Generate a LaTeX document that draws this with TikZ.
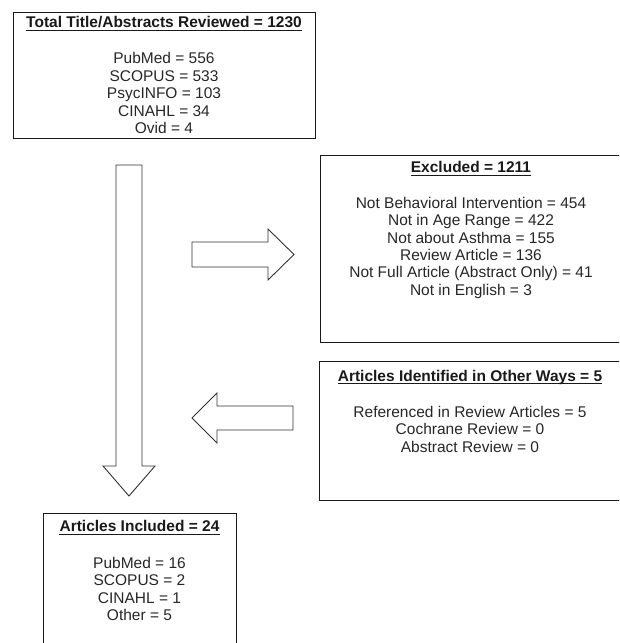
\documentclass[tikz,border=0pt]{standalone}
\usepackage{fontspec}
\setmainfont{Liberation Sans}
\begin{document}
\begin{tikzpicture}[x=1pt,y=-1pt,
  box/.style={draw=black!90, line width=1.1pt, inner sep=0pt, anchor=north west},
  ttl/.style={font=\bfseries\fontsize{15.5}{17.5}\selectfont, inner sep=0pt, anchor=base, text=black!90},
  itm/.style={font=\fontsize{15.5}{17.5}\selectfont, inner sep=0pt, anchor=base, text=black!85},
  uline/.style={draw=black!90, line width=1.3pt},
  blk/.style={draw=black!80, line width=0.9pt, fill=white, line join=miter}]
\useasboundingbox (0,0) rectangle (619,643);
\clip (0,0) rectangle (619,643);

% boxes
\node[box, minimum width=302pt, minimum height=126pt] (total) at (13,12) {};
\node[box, minimum width=302pt, minimum height=187pt] (excl) at (320,155) {};
\node[box, minimum width=302pt, minimum height=139pt] (other) at (319,361) {};
\node[box, minimum width=193pt, minimum height=140pt] (incl) at (43,513) {};

% titles
\node[ttl] (totalT) at (164,27.5) {Total Title/Abstracts Reviewed = 1230};
\node[ttl] (exclT) at (471,172.5) {Excluded = 1211};
\node[ttl] (otherT) at (470,381) {Articles Identified in Other Ways = 5};
\node[ttl] (inclT) at (139.5,531.5) {Articles Included = 24};
\foreach \n in {totalT,exclT,otherT,inclT}
  \draw[uline] ([yshift=-2.7pt]\n.base west) -- ([yshift=-2.7pt]\n.base east);

% items
\foreach \t [count=\i] in {{PubMed = 556},{SCOPUS = 533},{PsycINFO = 103},{CINAHL = 34},{Ovid = 4}}
  \node[itm] (total-\i) at (164,{63.5+(\i-1)*17.6}) {\t};
\foreach \t [count=\i] in {{Not Behavioral Intervention = 454},{Not in Age Range = 422},{Not about Asthma = 155},{Review Article = 136},{Not Full Article (Abstract Only) = 41},{Not in English = 3}}
  \node[itm] (excl-\i) at (471,{208.5+(\i-1)*17.3}) {\t};
\foreach \t [count=\i] in {{Referenced in Review Articles = 5},{Cochrane Review = 0},{Abstract Review = 0}}
  \node[itm] (other-\i) at (470,{417+(\i-1)*17.5}) {\t};
\foreach \t [count=\i] in {{PubMed = 16},{SCOPUS = 2},{CINAHL = 1},{Other = 5}}
  \node[itm] (incl-\i) at (139.5,{568+(\i-1)*17.5}) {\t};

% block arrows
\draw[blk] (116,165) -- (142,165) -- (142,466) -- (155,466) -- (129,496) -- (103,466) -- (116,466) -- cycle;
\draw[blk] (192,242) -- (268,242) -- (268,229) -- (294,254.5) -- (268,280) -- (268,267) -- (192,267) -- cycle;
\draw[blk] (293,406) -- (217,406) -- (217,393) -- (192,418) -- (217,443) -- (217,430) -- (293,430) -- cycle;
\end{tikzpicture}
\end{document}
